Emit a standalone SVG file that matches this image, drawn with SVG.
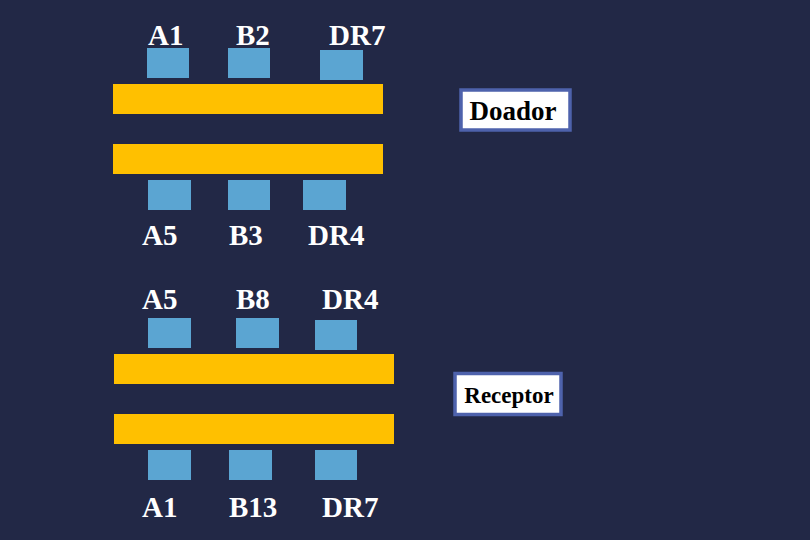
<svg xmlns="http://www.w3.org/2000/svg" width="810" height="540" viewBox="0 0 810 540">
  <style>
    .bar { fill: #FFC000; }
    .sq { fill: #5BA5D2; }
    .lbl { font-family: "Liberation Serif", "Times New Roman", serif; font-weight: bold; font-size: 29px; fill: #FFFFFF; }
    .box { fill: #FFFFFF; stroke: #4E62AC; stroke-width: 3.5; }
    .boxtxt { font-family: "Liberation Serif", "Times New Roman", serif; font-weight: bold; fill: #000000; text-anchor: middle; }
  </style>
  <rect x="0" y="0" width="810" height="540" fill="#222846"/>

  <g id="doador-top">
    <text class="lbl" x="148" y="45">A1</text>
    <text class="lbl" x="236" y="45">B2</text>
    <text class="lbl" x="329" y="45">DR7</text>
    <rect class="sq" x="147" y="48" width="42" height="30"/>
    <rect class="sq" x="228" y="48" width="42" height="30"/>
    <rect class="sq" x="320" y="50" width="43" height="30"/>
    <rect class="bar" x="113" y="84" width="270" height="30"/>
  </g>

  <g id="doador-bottom">
    <rect class="bar" x="113" y="144" width="270" height="30"/>
    <rect class="sq" x="148" y="180" width="43" height="30"/>
    <rect class="sq" x="228" y="180" width="42" height="30"/>
    <rect class="sq" x="303" y="180" width="43" height="30"/>
    <text class="lbl" x="142" y="245">A5</text>
    <text class="lbl" x="229" y="245">B3</text>
    <text class="lbl" x="308" y="245">DR4</text>
  </g>

  <g id="doador-label">
    <rect class="box" x="461" y="90" width="109" height="40"/>
    <text class="boxtxt" x="513" y="120" font-size="27">Doador</text>
  </g>

  <g id="receptor-top">
    <text class="lbl" x="142" y="309">A5</text>
    <text class="lbl" x="236" y="309">B8</text>
    <text class="lbl" x="322" y="309">DR4</text>
    <rect class="sq" x="148" y="318" width="43" height="30"/>
    <rect class="sq" x="236" y="318" width="43" height="30"/>
    <rect class="sq" x="315" y="320" width="42" height="30"/>
    <rect class="bar" x="114" y="354" width="280" height="30"/>
  </g>

  <g id="receptor-bottom">
    <rect class="bar" x="114" y="414" width="280" height="30"/>
    <rect class="sq" x="148" y="450" width="43" height="30"/>
    <rect class="sq" x="229" y="450" width="43" height="30"/>
    <rect class="sq" x="315" y="450" width="42" height="30"/>
    <text class="lbl" x="142" y="517">A1</text>
    <text class="lbl" x="229" y="517">B13</text>
    <text class="lbl" x="322" y="517">DR7</text>
  </g>

  <g id="receptor-label">
    <rect class="box" x="455" y="373.5" width="106" height="41"/>
    <text class="boxtxt" x="509" y="403" font-size="23">Receptor</text>
  </g>
</svg>
